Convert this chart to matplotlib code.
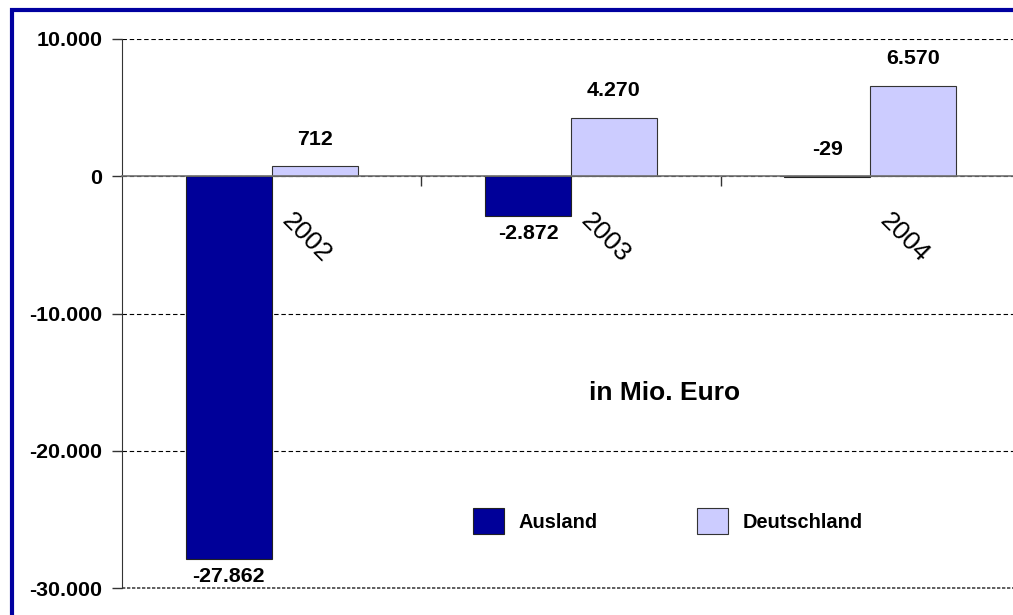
import matplotlib
matplotlib.use("Agg")
import matplotlib.pyplot as plt
import numpy as np
from matplotlib.patches import Patch, Rectangle

plt.rcParams['font.family'] = ['Liberation Sans', 'DejaVu Sans']

years = ['2002', '2003', '2004']
ausland = [-27862, -2872, -29]
deutschland = [712, 4270, 6570]
yticks = [10000, 0, -10000, -20000, -30000]

c_aus = '#000099'
c_de = '#CCCCFF'

def fmt(v):
    return f"{v:,.0f}".replace(',', '.')

fig = plt.figure(figsize=(10.13, 6.15), dpi=100)
ax = fig.add_axes([122 / 1013, 27 / 615, 898 / 1013, 549 / 615])

x = np.arange(len(years))
w = 0.287
b1 = ax.bar(x - w / 2, ausland, w, color=c_aus, edgecolor='#222222', linewidth=0.8, zorder=2)
b2 = ax.bar(x + w / 2, deutschland, w, color=c_de, edgecolor='#333333', linewidth=0.8, zorder=2)

ax.set_xlim(-0.5, 2.5)
ax.set_ylim(-30000, 10000)

# spines
ax.spines['top'].set_visible(False)
ax.spines['right'].set_visible(False)
ax.spines['left'].set_color('#333333')
ax.spines['bottom'].set_position(('data', 0))
ax.spines['bottom'].set_color('#707070')
ax.spines['bottom'].set_linewidth(1.2)
ax.spines['bottom'].set_zorder(3)

# x ticks at category boundaries
ax.set_xticks([0.5, 1.5])
ax.set_xticklabels([])
ax.tick_params(axis='x', length=7, width=1, direction='out', color='#333333')

# y axis
ax.set_yticks(yticks)
ax.set_yticklabels([fmt(v) for v in yticks], fontsize=15.4, fontweight='bold')
ax.tick_params(axis='y', length=7, width=1, pad=7, color='#333333')

ax.set_axisbelow(True)
ax.yaxis.grid(True, color='black', linestyle=(0, (4, 2.5)), linewidth=0.8)
gl = ax.get_ygridlines()
gl[-1].set_linestyle((0, (2, 1)))
gl[-1].set_color('#444444')
gl[-1].set_linewidth(1.2)
gl[-1].set_clip_on(False)

# year labels
for i, yr in enumerate(years):
    ax.annotate(yr, xy=(x[i], 0), xytext=(16, -23), textcoords='offset points',
                rotation=-45, rotation_mode='anchor', ha='left', va='top',
                fontsize=19)

# value labels
for i in range(len(years)):
    for xv, v in ((x[i] - w / 2, ausland[i]), (x[i] + w / 2, deutschland[i])):
        if v < -1000:
            off = -13
        else:
            off = 19.5
        ax.annotate(fmt(v), xy=(xv, v if v < -1000 else max(v, 0)), xytext=(0, off),
                    textcoords='offset points', ha='center', va='center',
                    fontsize=15.4, fontweight='bold')

ax.text(0.604, 0.355, 'in Mio. Euro', transform=ax.transAxes, ha='center', va='center',
        fontsize=19, fontweight='bold')

handles = [Patch(facecolor=c_aus, edgecolor='#222222', linewidth=0.8),
           Patch(facecolor=c_de, edgecolor='#333333', linewidth=0.8)]
ax.legend(handles, ['Ausland', 'Deutschland'], loc='center left',
          bbox_to_anchor=(0.380, 0.122), ncol=2, frameon=False, borderpad=0,
          handlelength=1.55, handleheight=1.6, handletextpad=0.7, columnspacing=5.0,
          prop={'size': 14.4, 'weight': 'bold'})

# blue frame around chart
fig.patches.append(Rectangle((11.5 / 1013, -0.1), 1.2, (615 - 9.5) / 615 + 0.1,
                             transform=fig.transFigure, fill=False,
                             edgecolor='#0000A0', linewidth=3))

fig.savefig('out.png', dpi=100)
